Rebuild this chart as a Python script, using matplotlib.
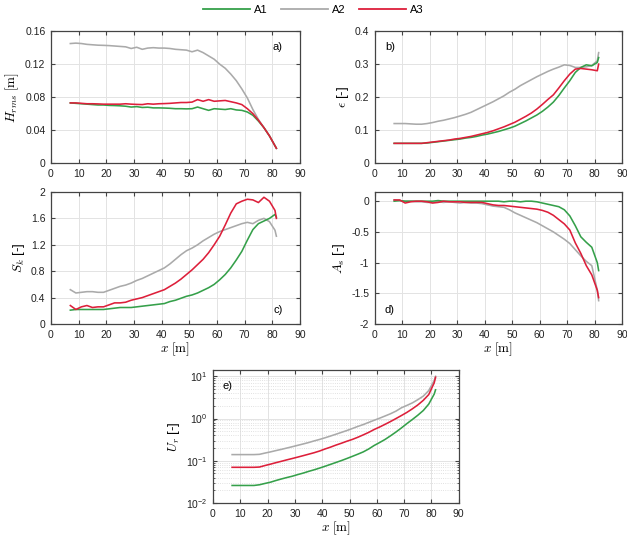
import matplotlib
matplotlib.use('Agg')
import matplotlib.pyplot as plt
from matplotlib.ticker import LogLocator, NullFormatter, FixedLocator
from matplotlib.lines import Line2D

plt.rcParams['font.family'] = ['Liberation Sans', 'DejaVu Sans']
plt.rcParams['mathtext.fontset'] = 'cm'
plt.rcParams['font.size'] = 7.5

# sample positions along the flume [m]
x = [7, 9, 11, 13, 15, 17, 19, 21, 23, 25, 27, 29, 31, 33, 35, 37, 39, 41, 43, 45,
     47, 49, 51, 53, 55, 57, 59, 61, 63, 65, 67, 69, 71, 73, 75, 77, 79, 81, 81.5]

# a) H_rms [m]
hrms_a1 = [0.073, 0.0725, 0.072, 0.0715, 0.071, 0.0705, 0.0705, 0.070, 0.0698, 0.0695,
           0.069, 0.068, 0.0685, 0.0675, 0.0678, 0.067, 0.067, 0.0668, 0.0665, 0.066,
           0.066, 0.0658, 0.066, 0.068, 0.066, 0.064, 0.066, 0.0655, 0.065, 0.066,
           0.0645, 0.064, 0.062, 0.058, 0.051, 0.043, 0.033, 0.021, 0.018]
hrms_a2 = [0.145, 0.1455, 0.145, 0.144, 0.1435, 0.143, 0.1428, 0.1425, 0.142, 0.1415,
           0.141, 0.139, 0.1405, 0.138, 0.1395, 0.140, 0.1395, 0.1395, 0.139, 0.138,
           0.1375, 0.137, 0.135, 0.137, 0.134, 0.130, 0.126, 0.120, 0.115, 0.108,
           0.100, 0.090, 0.079, 0.065, 0.053, 0.043, 0.033, 0.021, 0.018]
hrms_a3 = [0.073, 0.073, 0.0725, 0.072, 0.072, 0.0718, 0.0715, 0.0715, 0.0715, 0.0715,
           0.072, 0.0715, 0.0712, 0.071, 0.072, 0.0715, 0.072, 0.0722, 0.0725, 0.073,
           0.0735, 0.0735, 0.074, 0.077, 0.075, 0.077, 0.075, 0.0755, 0.076, 0.0745,
           0.073, 0.071, 0.066, 0.060, 0.052, 0.043, 0.033, 0.021, 0.018]

# b) steepness epsilon [-]
eps_a1 = [0.06, 0.06, 0.06, 0.06, 0.06, 0.06, 0.061, 0.063, 0.065, 0.067,
          0.069, 0.071, 0.073, 0.076, 0.078, 0.081, 0.085, 0.088, 0.092, 0.096,
          0.101, 0.106, 0.112, 0.120, 0.128, 0.137, 0.146, 0.157, 0.170, 0.185,
          0.205, 0.228, 0.250, 0.275, 0.290, 0.298, 0.295, 0.305, 0.320]
eps_a2 = [0.12, 0.12, 0.12, 0.119, 0.118, 0.118, 0.120, 0.123, 0.127, 0.130,
          0.134, 0.138, 0.143, 0.148, 0.154, 0.162, 0.170, 0.178, 0.186, 0.195,
          0.204, 0.215, 0.224, 0.235, 0.244, 0.253, 0.262, 0.270, 0.278, 0.285,
          0.291, 0.298, 0.296, 0.290, 0.290, 0.292, 0.296, 0.310, 0.335]
eps_a3 = [0.06, 0.06, 0.06, 0.06, 0.06, 0.06, 0.062, 0.064, 0.066, 0.068,
          0.070, 0.073, 0.075, 0.078, 0.081, 0.085, 0.089, 0.093, 0.098, 0.104,
          0.110, 0.117, 0.124, 0.133, 0.142, 0.152, 0.164, 0.178, 0.193, 0.207,
          0.228, 0.250, 0.270, 0.285, 0.287, 0.285, 0.283, 0.280, 0.300]

# c) skewness S_k [-]
sk_a1 = [0.21, 0.22, 0.22, 0.22, 0.22, 0.22, 0.22, 0.23, 0.24, 0.25,
         0.25, 0.25, 0.26, 0.27, 0.28, 0.29, 0.30, 0.31, 0.34, 0.36,
         0.39, 0.42, 0.44, 0.47, 0.51, 0.55, 0.60, 0.67, 0.75, 0.85,
         0.97, 1.10, 1.27, 1.43, 1.52, 1.56, 1.60, 1.66, 1.62]
sk_a2 = [0.52, 0.47, 0.48, 0.49, 0.49, 0.48, 0.48, 0.51, 0.54, 0.57,
         0.59, 0.62, 0.66, 0.69, 0.73, 0.77, 0.81, 0.85, 0.91, 0.98,
         1.05, 1.11, 1.15, 1.20, 1.26, 1.31, 1.36, 1.40, 1.43, 1.46,
         1.49, 1.52, 1.54, 1.52, 1.57, 1.60, 1.55, 1.42, 1.33]
sk_a3 = [0.28, 0.22, 0.26, 0.28, 0.25, 0.26, 0.26, 0.29, 0.32, 0.32,
         0.33, 0.36, 0.38, 0.40, 0.43, 0.46, 0.49, 0.52, 0.57, 0.62,
         0.68, 0.75, 0.82, 0.90, 0.98, 1.08, 1.20, 1.33, 1.50, 1.68,
         1.82, 1.86, 1.89, 1.88, 1.84, 1.92, 1.86, 1.72, 1.60]

# d) asymmetry A_s [-]
as_a1 = [0.0, 0.01, 0.0, 0.0, 0.0, 0.0, 0.0, 0.0, 0.01, 0.0,
         0.0, 0.0, 0.0, 0.0, 0.0, 0.0, 0.0, 0.0, 0.0, 0.0,
         -0.01, 0.0, 0.0, -0.01, 0.0, 0.0, -0.01, -0.03, -0.05, -0.07,
         -0.09, -0.14, -0.24, -0.40, -0.58, -0.67, -0.75, -1.00, -1.13]
as_a2 = [0.02, 0.01, 0.0, 0.0, -0.01, -0.01, -0.02, -0.02, -0.01, -0.02,
         -0.01, -0.02, -0.03, -0.02, -0.03, -0.03, -0.04, -0.06, -0.08, -0.09,
         -0.10, -0.14, -0.19, -0.23, -0.27, -0.31, -0.35, -0.40, -0.45, -0.50,
         -0.56, -0.62, -0.69, -0.79, -0.89, -0.98, -1.05, -1.45, -1.62]
as_a3 = [0.02, 0.02, -0.03, -0.01, 0.0, 0.0, -0.01, -0.03, -0.02, 0.0,
         -0.01, -0.01, -0.01, -0.02, -0.02, -0.02, -0.02, -0.04, -0.06, -0.07,
         -0.07, -0.08, -0.09, -0.10, -0.11, -0.12, -0.13, -0.15, -0.18, -0.23,
         -0.30, -0.37, -0.47, -0.68, -0.85, -1.05, -1.20, -1.45, -1.57]

# e) Ursell number U_r [-]
ur_a1 = [0.026, 0.026, 0.026, 0.026, 0.026, 0.027, 0.029, 0.031, 0.034, 0.037,
         0.040, 0.043, 0.047, 0.051, 0.056, 0.061, 0.067, 0.074, 0.082, 0.091,
         0.101, 0.113, 0.127, 0.143, 0.162, 0.190, 0.23, 0.27, 0.32, 0.39,
         0.48, 0.60, 0.76, 0.95, 1.20, 1.55, 2.2, 3.8, 4.8]
ur_a2 = [0.14, 0.14, 0.14, 0.14, 0.14, 0.142, 0.152, 0.162, 0.174, 0.186,
         0.200, 0.215, 0.232, 0.250, 0.270, 0.295, 0.320, 0.350, 0.385, 0.425,
         0.47, 0.52, 0.58, 0.65, 0.72, 0.81, 0.91, 1.02, 1.15, 1.30,
         1.50, 1.80, 2.05, 2.35, 2.8, 3.4, 4.6, 8.0, 10.0]
ur_a3 = [0.07, 0.07, 0.07, 0.07, 0.07, 0.071, 0.077, 0.083, 0.090, 0.097,
         0.105, 0.113, 0.122, 0.132, 0.143, 0.155, 0.170, 0.190, 0.210, 0.235,
         0.26, 0.29, 0.32, 0.36, 0.41, 0.47, 0.55, 0.63, 0.73, 0.85,
         1.00, 1.18, 1.40, 1.70, 2.10, 2.70, 3.70, 7.0, 9.5]

names = ['A1', 'A2', 'A3']
colors = ['#35a04a', '#aaaaaa', '#dd1f3a']
edge = '#444444'


def style(ax):
    ax.set_xlim(0, 90)
    ax.set_xticks([0, 10, 20, 30, 40, 50, 60, 70, 80, 90])
    ax.tick_params(direction='in', top=True, right=True, length=3,
                   color=edge, labelcolor='#222222', pad=4)
    for s in ax.spines.values():
        s.set_color(edge)
        s.set_linewidth(0.9)
    ax.grid(True, color='#e3e3e3', linewidth=0.7)
    ax.set_axisbelow(True)


def draw(ax, series):
    # gray first so the coloured runs sit on top of it
    order = [1, 0, 2]
    for i in order:
        ax.plot(x, series[i], color=colors[i], linewidth=1.15)


fig = plt.figure(figsize=(6.27, 5.42), dpi=100)

ax_a = fig.add_axes([0.0813, 0.699, 0.397, 0.2435])
ax_b = fig.add_axes([0.598, 0.699, 0.394, 0.2435])
ax_c = fig.add_axes([0.0813, 0.4022, 0.397, 0.2436])
ax_d = fig.add_axes([0.598, 0.4022, 0.394, 0.2436])
ax_e = fig.add_axes([0.3397, 0.072, 0.392, 0.245])

lab = dict(fontsize=9.5, labelpad=3)

draw(ax_a, [hrms_a1, hrms_a2, hrms_a3])
ax_a.set_ylim(0, 0.16)
ax_a.set_yticks([0, 0.04, 0.08, 0.12, 0.16])
ax_a.set_yticklabels(['0', '0.04', '0.08', '0.12', '0.16'])
ax_a.set_ylabel(r'$H_{rms}$ $[\mathrm{m}]$', **lab)
ax_a.text(0.93, 0.86, 'a)', transform=ax_a.transAxes, fontsize=8, ha='right')

draw(ax_b, [eps_a1, eps_a2, eps_a3])
ax_b.set_ylim(0, 0.4)
ax_b.set_yticks([0, 0.1, 0.2, 0.3, 0.4])
ax_b.set_yticklabels(['0', '0.1', '0.2', '0.3', '0.4'])
ax_b.set_ylabel(r'$\epsilon$ [-]', **lab)
ax_b.text(0.04, 0.86, 'b)', transform=ax_b.transAxes, fontsize=8)

draw(ax_c, [sk_a1, sk_a2, sk_a3])
ax_c.set_ylim(0, 2)
ax_c.set_yticks([0, 0.4, 0.8, 1.2, 1.6, 2])
ax_c.set_yticklabels(['0', '0.4', '0.8', '1.2', '1.6', '2'])
ax_c.set_ylabel(r'$S_k$ [-]', **lab)
ax_c.set_xlabel(r'$x$ $[\mathrm{m}]$', fontsize=9.5, labelpad=1)
ax_c.text(0.93, 0.08, 'c)', transform=ax_c.transAxes, fontsize=8, ha='right')

draw(ax_d, [as_a1, as_a2, as_a3])
ax_d.set_ylim(-2, 0.15)
ax_d.set_yticks([-2, -1.5, -1, -0.5, 0])
ax_d.set_yticklabels(['-2', '-1.5', '-1', '-0.5', '0'])
ax_d.set_ylabel(r'$A_s$ [-]', **lab)
ax_d.set_xlabel(r'$x$ $[\mathrm{m}]$', fontsize=9.5, labelpad=1)
ax_d.text(0.04, 0.08, 'd)', transform=ax_d.transAxes, fontsize=8)

draw(ax_e, [ur_a1, ur_a2, ur_a3])
ax_e.set_yscale('log')
ax_e.set_ylim(1e-2, 14)
ax_e.yaxis.set_major_locator(FixedLocator([1e-2, 1e-1, 1e0, 1e1]))
ax_e.set_yticklabels([r'$\mathregular{10^{-2}}$', r'$\mathregular{10^{-1}}$',
                      r'$\mathregular{10^{0}}$', r'$\mathregular{10^{1}}$'])
ax_e.yaxis.set_minor_locator(LogLocator(base=10, subs=range(2, 10)))
ax_e.yaxis.set_minor_formatter(NullFormatter())
ax_e.set_ylabel(r'$U_r$ [-]', **lab)
ax_e.set_xlabel(r'$x$ $[\mathrm{m}]$', fontsize=9.5, labelpad=1)
ax_e.text(0.04, 0.86, 'e)', transform=ax_e.transAxes, fontsize=8)

for ax in [ax_a, ax_b, ax_c, ax_d, ax_e]:
    style(ax)
ax_e.tick_params(which='minor', direction='in', right=True, length=1.5, color=edge)
ax_e.grid(True, which='minor', axis='y', color='#d8d8d8', linewidth=0.6, linestyle=':')

handles = [Line2D([0], [0], color=c, linewidth=1.3) for c in colors]
fig.legend(handles, names, loc='center', bbox_to_anchor=(0.5, 0.981), ncol=3,
           frameon=False, fontsize=8, handlelength=4.2, columnspacing=1.2,
           handletextpad=0.4)

fig.savefig('out.png', dpi=100)
